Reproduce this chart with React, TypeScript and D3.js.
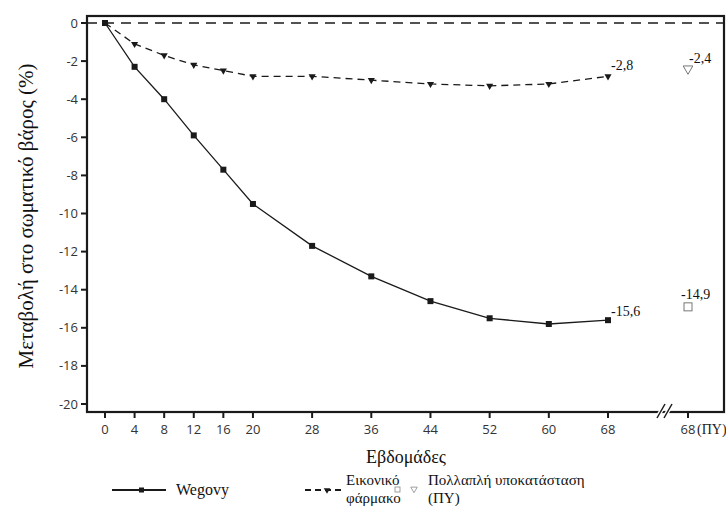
import * as React from "react";
import * as d3 from "d3";

const weeks = [0, 4, 8, 12, 16, 20, 28, 36, 44, 52, 60, 68];
const wegovy = [0, -2.3, -4.0, -5.9, -7.7, -9.5, -11.7, -13.3, -14.6, -15.5, -15.8, -15.6];
const placebo = [0, -1.1, -1.7, -2.2, -2.5, -2.8, -2.8, -3.0, -3.2, -3.3, -3.2, -2.8];
const miWegovy = -14.9;
const miPlacebo = -2.4;
const yTicks = [0, -2, -4, -6, -8, -10, -12, -14, -16, -18, -20];
const fmt = (v: number) => v.toFixed(1).replace(".", ",");

const W = 726;
const H = 508;
const sans = "Open Sans";
const serif = "Liberation Serif";
const ink = "#1a1a1a";

const frame = { left: 87, top: 16, right: 724, bottom: 412 };
const x = d3.scaleLinear().domain([0, 68]).range([105, 608]);
const xMI = 688;
const y = d3.scaleLinear().domain([0, -20]).range([23, 404]);

const line = d3.line<number>()
    .x((_, i) => x(weeks[i]))
    .y(d => y(d));
const triSmall = d3.symbol().type(d3.symbolTriangle).size(22)()!;
const triOpen = d3.symbol().type(d3.symbolTriangle).size(40)()!;
const triLeg = d3.symbol().type(d3.symbolTriangle).size(18)()!;

const App: React.FC = () => {
    const ly = 490;
    return (
        <svg width={W} height={H}
            style={{ position: "absolute", left: 0, top: 0, background: "#fff", display: "block" }}>
            {/* frame */}
            <rect x={frame.left} y={frame.top} width={frame.right - frame.left} height={frame.bottom - frame.top}
                fill="none" stroke={ink} strokeWidth={2.2} />
            <line x1={frame.left} x2={frame.right} y1={y(0)} y2={y(0)}
                stroke={ink} strokeWidth={1.5} strokeDasharray="10,7" />

            {yTicks.map(t => (
                <g key={"y" + t}>
                    <line x1={frame.left - 6} x2={frame.left} y1={y(t)} y2={y(t)} stroke={ink} strokeWidth={2} />
                    <text x={frame.left - 9} y={y(t)} dy="0.35em" textAnchor="end"
                        fontFamily={sans} fontSize={13} fill="#333">{t}</text>
                </g>
            ))}
            {weeks.map(t => (
                <g key={"x" + t}>
                    <line x1={x(t)} x2={x(t)} y1={frame.bottom} y2={frame.bottom + 6} stroke={ink} strokeWidth={2} />
                    <text x={x(t)} y={frame.bottom + 22} textAnchor="middle"
                        fontFamily={sans} fontSize={13} fill="#333">{t}</text>
                </g>
            ))}
            <line x1={xMI} x2={xMI} y1={frame.bottom} y2={frame.bottom + 6} stroke={ink} strokeWidth={2} />
            <text x={xMI} y={frame.bottom + 22} textAnchor="middle" fontFamily={sans} fontSize={13} fill="#333">68</text>
            <text x={xMI + 9} y={frame.bottom + 22} fontFamily={serif} fontSize={14} fill="#222">(ΠΥ)</text>

            {/* axis break */}
            {[0, 7].map(off => (
                <g key={off}>
                    <line x1={656 + off} x2={666 + off} y1={frame.bottom + 7} y2={frame.bottom - 9}
                        stroke="#fff" strokeWidth={4} />
                    <line x1={657 + off} x2={665 + off} y1={frame.bottom + 6} y2={frame.bottom - 8}
                        stroke={ink} strokeWidth={1.5} />
                </g>
            ))}

            <path d={line(placebo)!} fill="none" stroke={ink} strokeWidth={1.3} strokeDasharray="7,5" />
            {placebo.slice(1).map((d, i) => (
                <path key={"p" + i} d={triSmall} fill={ink}
                    transform={`translate(${x(weeks[i + 1])},${y(d)}) rotate(180)`} />
            ))}

            <path d={line(wegovy)!} fill="none" stroke={ink} strokeWidth={1.3} />
            {wegovy.map((d, i) => (
                <rect key={"w" + i} x={x(weeks[i]) - 3} y={y(d) - 3} width={6} height={6} fill={ink} />
            ))}

            <rect x={xMI - 4} y={y(miWegovy) - 4} width={8} height={8} fill="none" stroke="#777" strokeWidth={1} />
            <path d={triOpen} fill="none" stroke="#777" strokeWidth={1}
                transform={`translate(${xMI},${y(miPlacebo)}) rotate(180)`} />

            <g fontFamily={serif} fontSize={14} fill="#111">
                <text x={x(68) + 3} y={y(placebo[11]) - 6}>{fmt(placebo[11])}</text>
                <text x={xMI + 1} y={y(miPlacebo) - 6}>{fmt(miPlacebo)}</text>
                <text x={x(68) + 3} y={y(wegovy[11]) - 4}>{fmt(wegovy[11])}</text>
                <text x={xMI - 7} y={y(miWegovy) - 8}>{fmt(miWegovy)}</text>
            </g>

            <text transform={`translate(33,${(frame.top + frame.bottom) / 2 + 2}) rotate(-90)`}
                textAnchor="middle" fontFamily={serif} fontSize={21} fill="#111">
                Μεταβολή στο σωματικό βάρος (%)
            </text>
            <text x={406} y={463} textAnchor="middle" fontFamily={serif} fontSize={18} fill="#111">Εβδομάδες</text>

            {/* legend */}
            <line x1={112} x2={166} y1={ly} y2={ly} stroke={ink} strokeWidth={1.8} />
            <rect x={139} y={ly - 2.5} width={5} height={5} fill={ink} />
            <text x={176} y={ly + 5} fontFamily={serif} fontSize={16} fill="#111">Wegovy</text>

            <line x1={305} x2={342} y1={ly} y2={ly} stroke={ink} strokeWidth={1.8} strokeDasharray="6,4" />
            <path d={triLeg} fill={ink} transform={`translate(327,${ly}) rotate(180)`} />
            <g fontFamily={serif} fontSize={15} fill="#111">
                <text x={346} y={ly - 5}>Εικονικό</text>
                <text x={346} y={ly + 13}>φάρμακο</text>
                <text x={428} y={ly - 5}>Πολλαπλή υποκατάσταση</text>
                <text x={428} y={ly + 13}>(ΠΥ)</text>
            </g>
            <rect x={395} y={ly - 3} width={5} height={5} fill="none" stroke="#888" strokeWidth={0.8} />
            <path d={triLeg} fill="none" stroke="#888" strokeWidth={0.8}
                transform={`translate(414,${ly - 1}) rotate(180)`} />
        </svg>
    );
};

export default App;
